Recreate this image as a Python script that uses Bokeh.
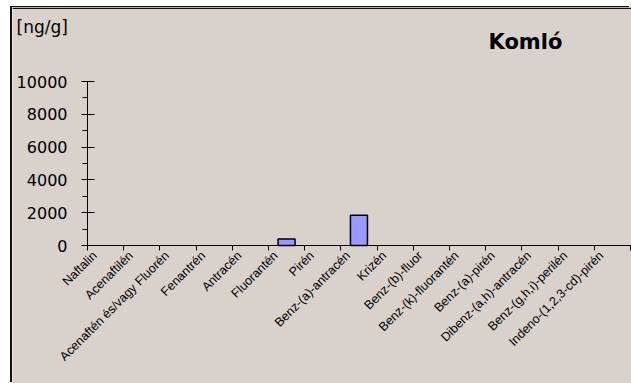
from bokeh.plotting import figure
from bokeh.models import (FixedTicker, SingleIntervalTicker, Range1d, Label,
                          ColumnDataSource, BoxAnnotation)
from bokeh.embed import file_html
from bokeh.resources import INLINE
import math

categories = ["Naftalin", "Acenaftilén", "Acenaftén és/vagy Fluorén", "Fenantrén",
              "Antracén", "Fluorantén", "Pirén", "Benz-(a)-antracén", "Krizén",
              "Benz-(b)-fluor", "Benz-(k)-fluorantén", "Benz-(a)-pirén",
              "Dibenz-(a,h)-antracén", "Benz-(g,h,i)-perilén", "Indeno-(1,2,3-cd)-pirén"]
values = [0, 0, 0, 0, 0, 390, 0, 1850, 0, 0, 0, 0, 0, 0, 0]
y_max = 10000
y_step = 2000
title_text = "Komló"
unit_text = "[ng/g]"

BG = "#D9D1CC"
n = len(categories)
centers = [i + 0.5 for i in range(n)]
label_pos = [i + 0.2 for i in range(n)]

# the frame covers the whole panel; axes are fixed at zero and bounded to the data area
px_per_unit = 16.4 / 1000.0
x_lo, x_hi = -2.072, n + 0.03
y_hi = 238 / px_per_unit
y_lo = -138 / px_per_unit

p = figure(width=619, height=376, output_backend="svg", toolbar_location=None,
           x_range=Range1d(x_lo, x_hi), y_range=Range1d(y_lo, y_hi),
           background_fill_color=BG, border_fill_color=BG,
           min_border_left=0, min_border_top=0, min_border_bottom=0, min_border_right=0,
           margin=(7, 0, 0, 12),
           styles={"box-shadow": "-2px -1px 0 0 #111"})
p.outline_line_color = None
p.grid.visible = False

# top edge of the panel
p.add_layout(BoxAnnotation(left=x_lo, right=x_hi, top=y_hi,
                           bottom=y_hi - 1.5 / px_per_unit, fill_color="#111",
                           fill_alpha=1, line_color=None))

xs = [c for c, v in zip(centers, values) if v > 0]
tops = [v for v in values if v > 0]
src = ColumnDataSource(dict(x=xs, top=tops))
p.vbar(x="x", top="top", width=0.47, source=src, fill_color="#9999FF",
       line_color="black", line_width=1.5)

xa = p.xaxis[0]
xa.fixed_location = 0
xa.bounds = (0, n)
xa.ticker = FixedTicker(ticks=label_pos, minor_ticks=list(range(n + 1)))
xa.major_label_overrides = {c: lab for c, lab in zip(label_pos, categories)}
xa.major_label_orientation = math.pi / 4
xa.major_tick_in = 0
xa.major_tick_out = 0
xa.minor_tick_in = 0
xa.minor_tick_out = 5
xa.minor_tick_line_color = "black"
xa.axis_line_color = "black"
xa.major_label_text_font = "Liberation Sans"
xa.major_label_text_font_size = "12.5px"
xa.major_label_text_color = "black"
xa.major_label_standoff = 3

ya = p.yaxis[0]
ya.fixed_location = 0
ya.bounds = (0, y_max)
ya.ticker = SingleIntervalTicker(interval=y_step, num_minor_ticks=2)
ya.major_tick_in = 7
ya.major_tick_out = 6
ya.minor_tick_in = 0
ya.minor_tick_out = 5
ya.major_tick_line_color = "black"
ya.minor_tick_line_color = "black"
ya.axis_line_color = "black"
ya.major_label_text_font = "DejaVu Sans"
ya.major_label_text_font_size = "16px"
ya.major_label_text_color = "black"
ya.major_label_standoff = 14

p.add_layout(Label(x=11.08, y=13110, text=title_text, text_baseline="top",
                   text_font="DejaVu Sans", text_font_style="bold",
                   text_font_size="21px", text_color="black"))
p.add_layout(Label(x=-1.96, y=13963, text=unit_text, text_baseline="top",
                   text_font="DejaVu Sans", text_font_size="17px", text_color="black"))

open("out.html", "w").write(file_html(p, INLINE))
